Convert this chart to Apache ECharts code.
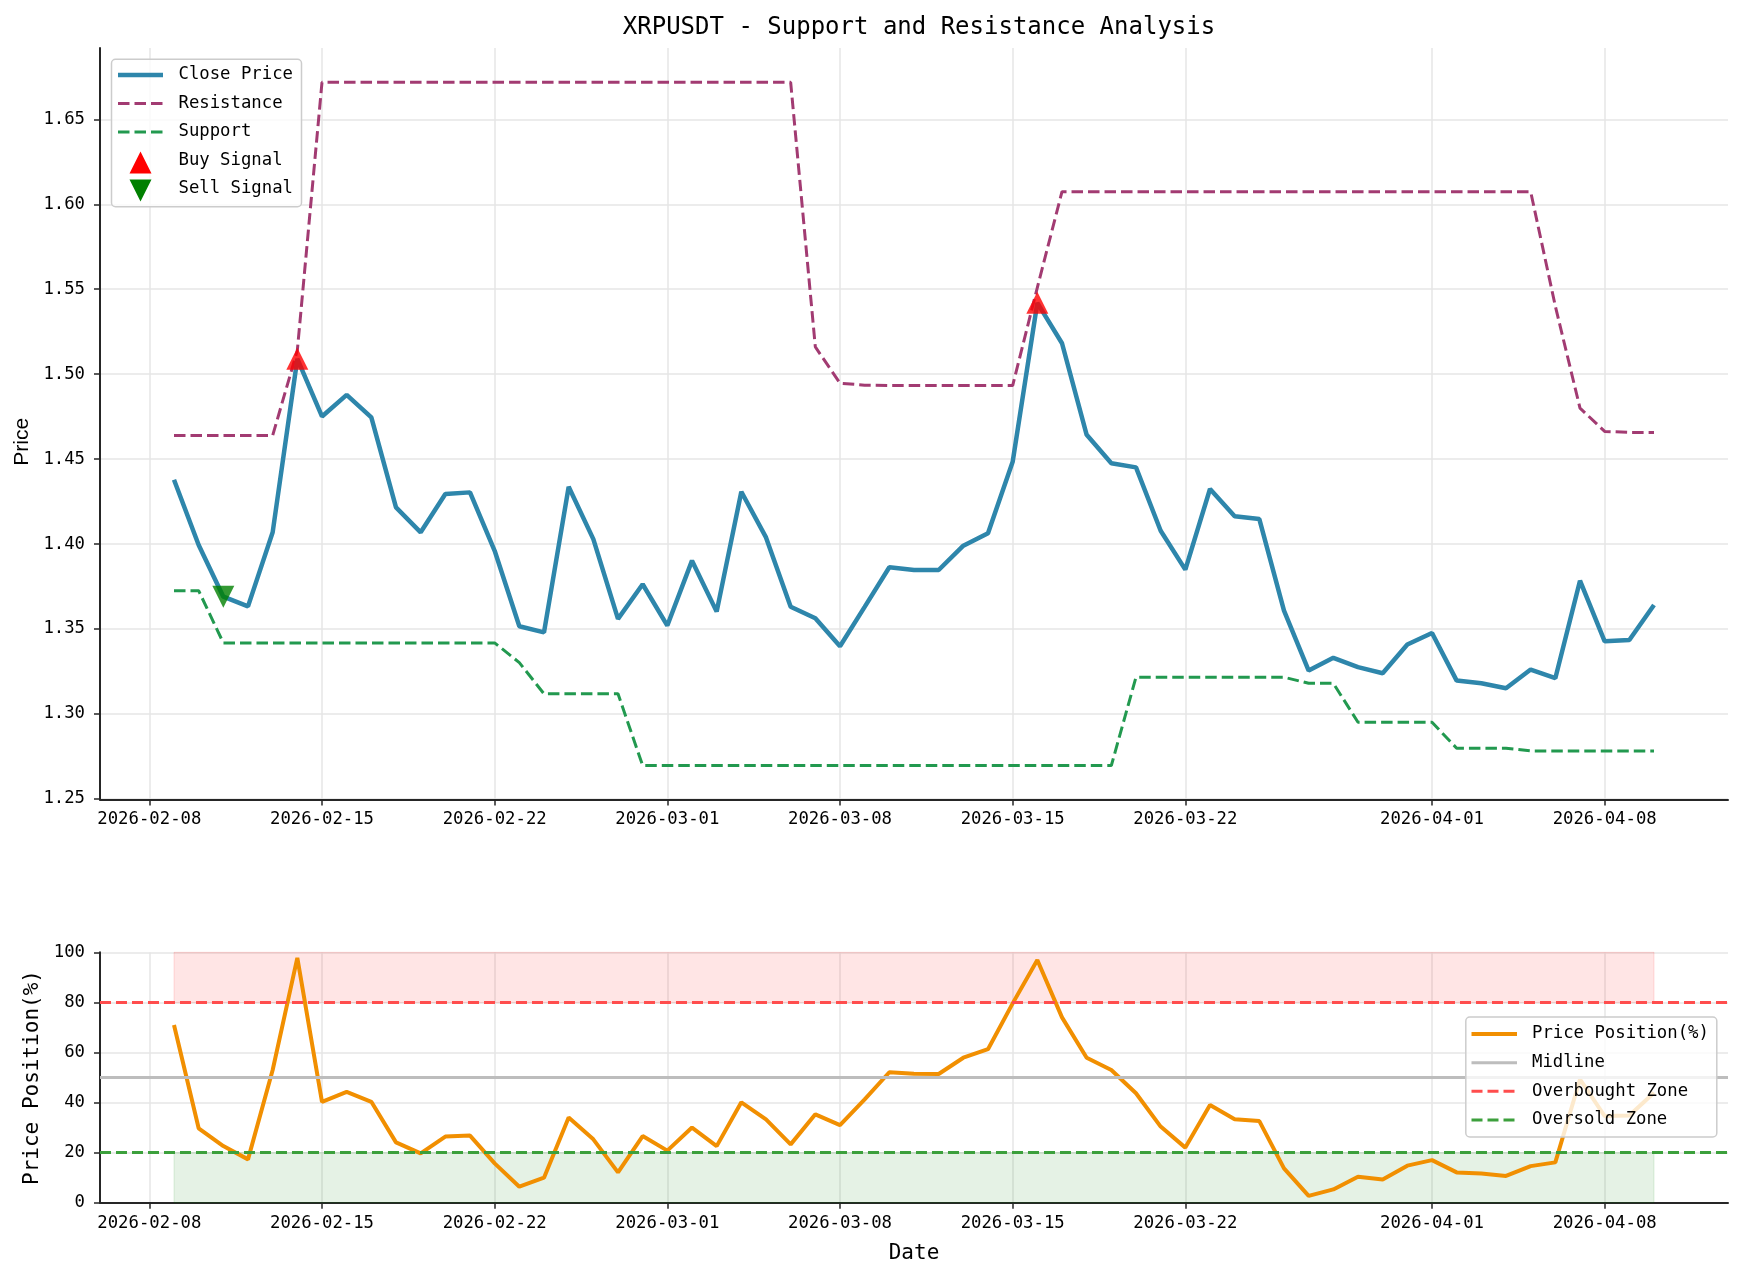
<!DOCTYPE html>
<html>
<head>
<meta charset="utf-8">
<script src="https://cdn.jsdelivr.net/npm/echarts@6/dist/echarts.min.js"></script>
<style>html,body{margin:0;padding:0;background:#fff}#c{width:1743px;height:1280px}</style>
</head>
<body>
<div id="c"></div>
<script>
// ---------- data ----------
const dates = [
 '2026-02-09','2026-02-10','2026-02-11','2026-02-12','2026-02-13','2026-02-14','2026-02-15','2026-02-16','2026-02-17','2026-02-18',
 '2026-02-19','2026-02-20','2026-02-21','2026-02-22','2026-02-23','2026-02-24','2026-02-25','2026-02-26','2026-02-27','2026-02-28',
 '2026-03-01','2026-03-02','2026-03-03','2026-03-04','2026-03-05','2026-03-06','2026-03-07','2026-03-08','2026-03-09','2026-03-10',
 '2026-03-11','2026-03-12','2026-03-13','2026-03-14','2026-03-15','2026-03-16','2026-03-17','2026-03-18','2026-03-19','2026-03-20',
 '2026-03-21','2026-03-22','2026-03-23','2026-03-24','2026-03-25','2026-03-26','2026-03-27','2026-03-28','2026-03-29','2026-03-30',
 '2026-03-31','2026-04-01','2026-04-02','2026-04-03','2026-04-04','2026-04-05','2026-04-06','2026-04-07','2026-04-08','2026-04-09',
 '2026-04-10'];
const closePrice = [
 1.4378,1.3994,1.3690,1.3633,1.4069,1.5090,1.4751,1.4878,1.4745,1.4216,
 1.4069,1.4294,1.4304,1.3960,1.3516,1.3480,1.4337,1.4029,1.3559,1.3763,
 1.3520,1.3902,1.3602,1.4308,1.4039,1.3631,1.3563,1.3398,1.3630,1.3863,
 1.3847,1.3847,1.3990,1.4063,1.4484,1.5420,1.5182,1.4643,1.4476,1.4451,
 1.4078,1.3849,1.4324,1.4163,1.4147,1.3608,1.3255,1.3330,1.3275,1.3239,
 1.3408,1.3476,1.3196,1.3180,1.3151,1.3261,1.3210,1.3784,1.3427,1.3435,
 1.3641];
const resistance = [
 1.4639,1.4639,1.4639,1.4639,1.4639,1.5140,1.6718,1.6718,1.6718,1.6718,
 1.6718,1.6718,1.6718,1.6718,1.6718,1.6718,1.6718,1.6718,1.6718,1.6718,
 1.6718,1.6718,1.6718,1.6718,1.6718,1.6718,1.5160,1.4947,1.4935,1.4933,
 1.4933,1.4933,1.4933,1.4933,1.4933,1.5510,1.6074,1.6074,1.6074,1.6074,
 1.6074,1.6074,1.6074,1.6074,1.6074,1.6074,1.6074,1.6074,1.6074,1.6074,
 1.6074,1.6074,1.6074,1.6074,1.6074,1.6074,1.5400,1.4800,1.4663,1.4657,
 1.4657];
const support = [
 1.3725,1.3725,1.3418,1.3418,1.3418,1.3418,1.3418,1.3418,1.3418,1.3418,
 1.3418,1.3418,1.3418,1.3418,1.3302,1.3118,1.3118,1.3118,1.3118,1.2696,
 1.2696,1.2696,1.2696,1.2696,1.2696,1.2696,1.2696,1.2696,1.2696,1.2696,
 1.2696,1.2696,1.2696,1.2696,1.2696,1.2696,1.2696,1.2696,1.2696,1.3216,
 1.3216,1.3216,1.3216,1.3216,1.3216,1.3216,1.3180,1.3180,1.2951,1.2951,
 1.2951,1.2951,1.2798,1.2798,1.2798,1.2782,1.2782,1.2782,1.2782,1.2782,
 1.2782];
const pricePosition = [
 71.0,29.7,22.6,17.3,53.0,97.8,40.3,44.3,40.3,24.1,
 19.7,26.4,26.8,15.7,6.4,10.0,34.0,25.3,12.1,26.6,
 20.8,30.0,22.6,40.1,33.3,23.3,35.3,31.0,41.3,52.1,
 51.5,51.4,57.9,61.3,79.6,96.9,74.0,57.9,53.0,43.7,
 30.4,22.0,39.0,33.3,32.6,13.7,2.7,5.3,10.4,9.3,
 14.8,17.0,12.1,11.7,10.7,14.6,16.1,49.3,34.6,34.8,
 43.9];
const buyDates = ['2026-02-14','2026-03-16'];
const buyPrices = [1.5090,1.5420];
const sellDates = ['2026-02-11'];
const sellPrices = [1.3690];
const xTickLabels = ['2026-02-08','2026-02-15','2026-02-22','2026-03-01','2026-03-08','2026-03-15','2026-03-22','2026-04-01','2026-04-08'];
const priceTicks = [1.25,1.30,1.35,1.40,1.45,1.50,1.55,1.60,1.65];
const positionTicks = [0,20,40,60,80,100];
const midlineLevel = 50, overboughtLevel = 80, oversoldLevel = 20, zoneTop = 100, zoneBottom = 0;

// ---------- helpers ----------
function dayNum(s){const p=s.split('-').map(Number);return (Date.UTC(p[0],p[1]-1,p[2])-Date.UTC(2026,1,8))/86400000;}
const xTickDays = xTickLabels.map(dayNum);
const labelByDay = {}; xTickLabels.forEach((l,i)=>labelByDay[xTickDays[i]]=l);
const pairs = (ds, vs) => ds.map((d,i)=>[dayNum(d), vs[i]]);
const firstDay = dayNum(dates[0]), lastDay = dayNum(dates[dates.length-1]);

const MONO = '"DejaVu Sans Mono", monospace';
const AX = '#262626';
const GRIDC = '#e6e6e6';
const LZ = 100;

function xAxisCfg(gi, showName){
  return {
    type:'value', gridIndex:gi, min:-2, max:64,
    name: showName ? 'Date' : '', nameLocation:'middle', nameGap:40,
    nameTextStyle:{fontFamily:MONO, fontSize:21, color:'#000'},
    axisLine:{show:true, onZero:false, lineStyle:{color:AX, width:2}},
    axisTick:{show:true, customValues:xTickDays, length:6, lineStyle:{color:AX, width:1.5}},
    axisLabel:{customValues:xTickDays, formatter:(v)=>labelByDay[Math.round(v)]||'', fontFamily:MONO, fontSize:17.3, color:'#000', margin:12},
    splitLine:{show:true, lineStyle:{color:GRIDC, width:1.5}}
  };
}
function legendText(t, x, y){
  return {type:'text', z:LZ+1, style:{text:t, x:x, y:y, verticalAlign:'middle', fontFamily:MONO, fontSize:17.3, fill:'#000'}};
}
function legendLine(x1, x2, y, color, w, dash){
  const st = {stroke:color, lineWidth:w};
  if (dash) st.lineDash = dash;
  return {type:'line', z:LZ+1, shape:{x1:x1,y1:y,x2:x2,y2:y}, style:st};
}

const option = {
  animation:false,
  backgroundColor:'#fff',
  title:{text:'XRPUSDT - Support and Resistance Analysis', left:914, top:11, textAlign:'center',
    textStyle:{fontFamily:MONO, fontSize:24, fontWeight:'normal', color:'#000'}},
  grid:[
    {left:100, right:15, top:48, bottom:480.5},
    {left:100, right:15, top:952.3, bottom:77.3}
  ],
  xAxis:[xAxisCfg(0,false), xAxisCfg(1,true)],
  yAxis:[
    {type:'value', gridIndex:0, min:1.2496, max:1.692,
     name:'Price', nameLocation:'middle', nameGap:66, nameRotate:90,
     nameTextStyle:{fontFamily:'"Liberation Sans", Arial, sans-serif', fontSize:21, color:'#000', padding:[0,36,0,0]},
     axisLine:{show:true, onZero:false, lineStyle:{color:AX, width:2}},
     axisTick:{show:true, customValues:priceTicks, length:6, lineStyle:{color:AX, width:1.5}},
     axisLabel:{customValues:priceTicks, formatter:(v)=>v.toFixed(2), fontFamily:MONO, fontSize:17.3, color:'#000', margin:15},
     splitLine:{show:true, lineStyle:{color:GRIDC, width:1.5}}},
    {type:'value', gridIndex:1, min:0, max:100, interval:20,
     name:'Price Position(%)', nameLocation:'middle', nameGap:52, nameRotate:90,
     nameTextStyle:{fontFamily:MONO, fontSize:21, color:'#000'},
     axisLine:{show:true, onZero:false, lineStyle:{color:AX, width:2}},
     axisTick:{show:true, customValues:positionTicks, length:6, lineStyle:{color:AX, width:1.5}},
     axisLabel:{customValues:positionTicks, fontFamily:MONO, fontSize:17.3, color:'#000', margin:15},
     splitLine:{show:true, lineStyle:{color:GRIDC, width:1.5}}}
  ],
  series:[
    {name:'Resistance', type:'line', xAxisIndex:0, yAxisIndex:0, data:pairs(dates,resistance), showSymbol:false, symbol:'none', z:3,
     lineStyle:{color:'#A23B72', width:3, type:[11.5,5]}},
    {name:'Support', type:'line', xAxisIndex:0, yAxisIndex:0, data:pairs(dates,support), showSymbol:false, symbol:'none', z:3,
     lineStyle:{color:'#22994F', width:3, type:[11.5,5]}},
    {name:'Close Price', type:'line', xAxisIndex:0, yAxisIndex:0, data:pairs(dates,closePrice), showSymbol:false, symbol:'none', z:4,
     lineStyle:{color:'#2E86AB', width:4.5}},
    {name:'Buy Signal', type:'scatter', xAxisIndex:0, yAxisIndex:0, data:pairs(buyDates,buyPrices), symbol:'triangle', symbolSize:22, z:6,
     itemStyle:{color:'#ff0000'}},
    {name:'Sell Signal', type:'scatter', xAxisIndex:0, yAxisIndex:0, data:pairs(sellDates,sellPrices), symbol:'triangle', symbolRotate:180, symbolSize:22, z:6,
     itemStyle:{color:'#008000'}},
    {name:'zones', type:'line', xAxisIndex:1, yAxisIndex:1, data:[], z:1, silent:true,
     markArea:{silent:true, data:[
       [{xAxis:firstDay, yAxis:overboughtLevel, itemStyle:{color:'rgba(255,0,0,0.1)', borderColor:'rgba(255,0,0,0.12)', borderWidth:1}}, {xAxis:lastDay, yAxis:zoneTop}],
       [{xAxis:firstDay, yAxis:zoneBottom, itemStyle:{color:'rgba(0,128,0,0.1)', borderColor:'rgba(0,128,0,0.12)', borderWidth:1}}, {xAxis:lastDay, yAxis:oversoldLevel}]
     ]}},
    {name:'levels', type:'line', xAxisIndex:1, yAxisIndex:1, data:[], z:2, silent:true,
     markLine:{silent:true, symbol:['none','none'], label:{show:false}, data:[
       {yAxis:midlineLevel, lineStyle:{color:'#bdbdbd', width:3, type:'solid'}},
       {yAxis:overboughtLevel, lineStyle:{color:'#ff4d4d', width:3, type:[11,5]}},
       {yAxis:oversoldLevel, lineStyle:{color:'#3ca03c', width:3, type:[11,5]}}
     ]}},
    {name:'Price Position(%)', type:'line', xAxisIndex:1, yAxisIndex:1, data:pairs(dates,pricePosition), showSymbol:false, symbol:'none', z:4,
     lineStyle:{color:'#F18F01', width:4}}
  ],
  graphic:[
    {type:'rect', z:LZ, shape:{x:111.5,y:59.3,width:190,height:147.4,r:4}, style:{fill:'rgba(255,255,255,0.8)', stroke:'#cccccc', lineWidth:1.5}},
    legendLine(118,163,75,'#2E86AB',4.5),
    legendLine(118,163,103.5,'#A23B72',3,[11.5,5]),
    legendLine(118,163,132,'#22994F',3,[11.5,5]),
    {type:'polygon', z:LZ+1, shape:{points:[[140.5,151.5],[129.5,173.5],[151.5,173.5]]}, style:{fill:'#ff0000'}},
    {type:'polygon', z:LZ+1, shape:{points:[[129.5,179.5],[151.5,179.5],[140.5,201.5]]}, style:{fill:'#008000'}},
    legendText('Close Price',178.5,75),
    legendText('Resistance',178.5,103.5),
    legendText('Support',178.5,132),
    legendText('Buy Signal',178.5,160.5),
    legendText('Sell Signal',178.5,189),

    {type:'rect', z:LZ, shape:{x:1465.8,y:1017,width:251,height:120,r:4}, style:{fill:'rgba(255,255,255,0.8)', stroke:'#cccccc', lineWidth:1.5}},
    legendLine(1471.5,1517,1034,'#F18F01',4),
    legendLine(1471.5,1517,1062.7,'#bdbdbd',3),
    legendLine(1471.5,1517,1091.3,'#ff4d4d',3,[11,5]),
    legendLine(1471.5,1517,1120,'#3ca03c',3,[11,5]),
    legendText('Price Position(%)',1532,1034),
    legendText('Midline',1532,1062.7),
    legendText('Overbought Zone',1532,1091.3),
    legendText('Oversold Zone',1532,1120)
  ]
};
const chart = echarts.init(document.getElementById('c'), null, {renderer:'canvas'});
chart.setOption(option);
</script>
</body>
</html>
